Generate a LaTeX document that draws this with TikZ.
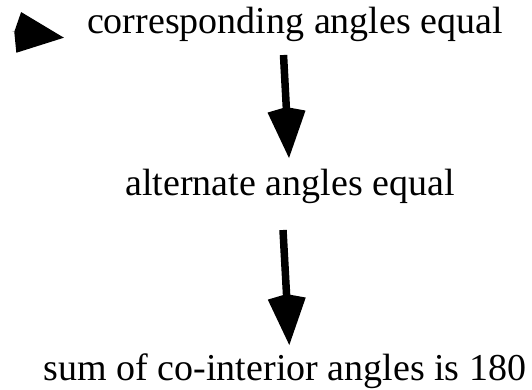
\documentclass[tikz,border=0pt]{standalone}
\usepackage{fontspec}
\setmainfont{Liberation Serif}
\usetikzlibrary{arrows.meta}

\begin{document}
\begin{tikzpicture}[
    x=1pt, y=-1pt,
    font=\fontsize{38}{40}\selectfont,
    fact/.style={inner sep=0pt, anchor=base},
    implies/.style={line width=7.5pt,
                    -{Kite[length=51pt, width=38pt, inset=4.5pt, line width=0pt]}},
    entryhead/.style={line width=0.01pt,
                    -{Kite[length=50pt, width=41pt, inset=4.5pt, line width=0pt]}},
  ]
    \useasboundingbox (0,0) rectangle (532,389);

    % --- the three statements ---
    \node[fact] (corr) at (295,33) {corresponding angles equal};
    \node[fact] (alt) at (290,195) {alternate angles equal};
    \node[fact] (cointer) at (285,380) {sum of co-interior angles is 180};

    % --- lone head in front of the first statement ---
    \coordinate (entry) at (12,31.6);
    \draw[entryhead] (entry) -- ([shift={(-23,4.7)}]corr.base west);

    % --- implications ---
    \draw[implies] ([shift={(-11.5,22)}]corr.base) -- ([shift={(-1,-37)}]alt.base);
    \draw[implies] ([shift={(-7,35)}]alt.base) -- ([shift={(4.3,-35)}]cointer.base);
\end{tikzpicture}
\end{document}
